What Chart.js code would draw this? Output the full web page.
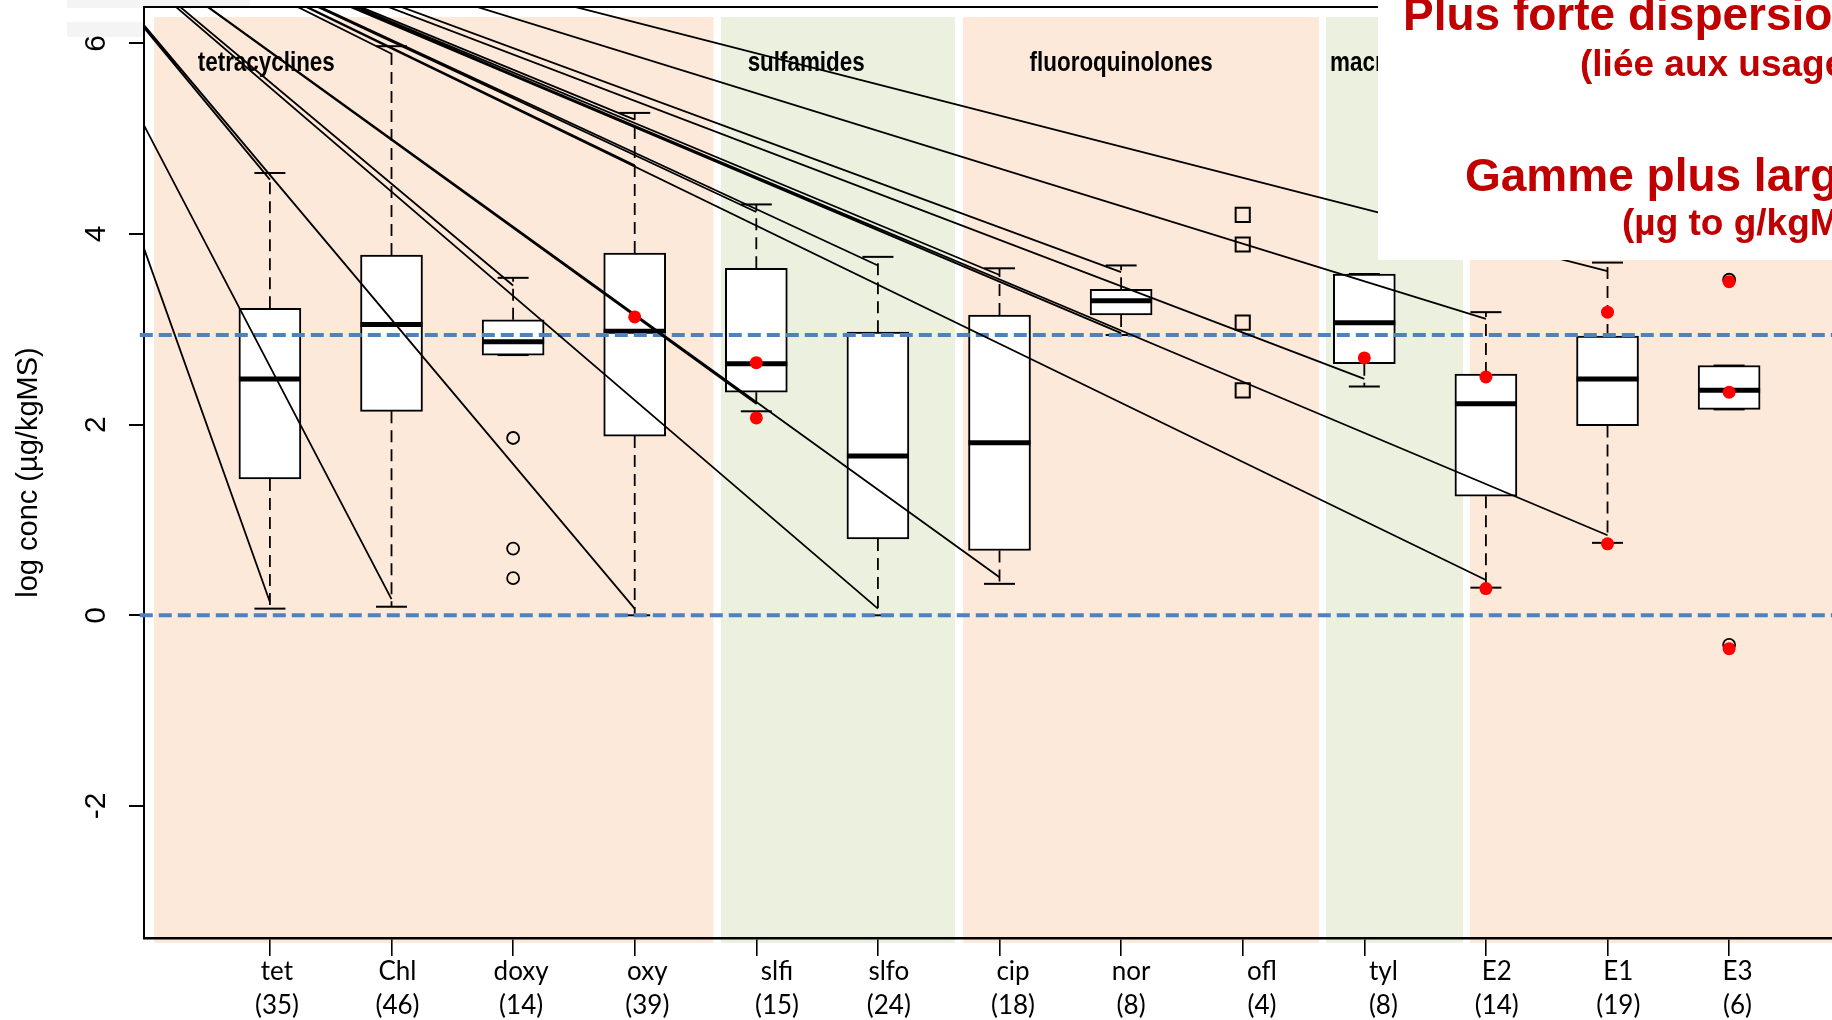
<!DOCTYPE html>
<html>
<head>
<meta charset="utf-8">
<script src="https://cdn.jsdelivr.net/npm/chart.js@4/dist/chart.umd.min.js"></script>
<style>
  html, body { margin: 0; padding: 0; background: #fff; overflow: hidden; }
  canvas { display: block; }
</style>
</head>
<body>
<canvas id="graphique" width="1832" height="1020"></canvas>
<script>
// Données (log conc en µg/kgMS)
const categories = ['tet', 'Chl', 'doxy', 'oxy', 'slfi', 'slfo', 'cip', 'nor', 'ofl', 'tyl', 'E2', 'E1', 'E3'];
const effectifs = [35, 46, 14, 39, 15, 24, 18, 8, 4, 8, 14, 19, 6];

// boites (null = pas de boite, ofl)
const basMoustache = [0.07, 0.09, 2.73, 0.00, 2.14, 0.00, 0.33, 2.94, null, 2.40, 0.29, 0.76, 2.16];
const q1 = [1.43, 2.14, 2.73, 1.88, 2.34, 0.80, 0.68, 3.15, null, 2.64, 1.25, 1.99, 2.16];
const mediane = [2.48, 3.05, 2.87, 2.98, 2.64, 1.67, 1.81, 3.30, null, 3.07, 2.22, 2.48, 2.36];
const q3 = [3.22, 3.78, 3.10, 3.80, 3.64, 2.97, 3.15, 3.42, null, 3.58, 2.53, 2.93, 2.62];
const hautMoustache = [4.64, 5.97, 3.54, 5.27, 4.31, 3.76, 3.64, 3.67, null, 3.58, 3.18, 3.70, 2.62];

// valeurs atypiques
const atypiquesCat = ['doxy', 'doxy', 'doxy', 'E3', 'E3'];
const atypiquesVal = [1.86, 0.70, 0.39, 3.52, -0.31];

// ofl : 4 valeurs seules
const oflValeurs = [4.20, 3.89, 3.07, 2.36];

// points rouges
const rougesCat = ['oxy', 'slfi', 'slfi', 'tyl', 'E2', 'E2', 'E1', 'E1', 'E3', 'E3', 'E3'];
const rougesVal = [3.13, 2.65, 2.07, 2.70, 2.50, 0.28, 3.18, 0.75, 3.50, 2.34, -0.35];

// niveaux de reference (tirets bleus)
const niveaux = [0, 2.94];

// traits partant d'un point de fuite
const fuite = { x: -1.17, y: 7.91 };
const traitsCat = ['tet', 'tet', 'Chl', 'Chl', 'doxy', 'oxy', 'oxy', 'oxy', 'slfi', 'slfi', 'slfo',
                   'slfo', 'cip', 'cip', 'nor', 'nor', 'tyl', 'E2', 'E2', 'E1', 'E1'];
const traitsVal = [0.14, 4.57, 0.17, 5.89, 3.46, 5.20, 4.72, 0.07, 4.23, 2.22, 3.67,
                   0.07, 3.57, 0.40, 3.60, 2.96, 2.48, 3.11, 0.37, 3.61, 0.84];

const yTicks = [-2, 0, 2, 4, 6];
const groupes = ['tetracyclines', 'sulfamides', 'fluoroquinolones', 'macrolides'];

// mise en page
const groupesX = [0.97, 5.41, 8.0, 9.718];
const etiquettesX = [1.058, 2.049, 3.066, 4.104, 5.170, 6.090, 7.111, 8.082, 9.158, 10.157, 11.089, 12.089, 13.069];
const bandes = [
    [0.047, 4.648, '#FDE9D9'],
    [4.710, 6.634, '#EBF1DE'],
    [6.700, 9.628, '#FDE9D9'],
    [9.685, 10.811, '#EBF1DE'],
    [10.868, 14.5, '#FDE9D9']
];
const X_MIN = -0.0354, X_MAX = 13.846;
const Y_MIN = -3.385, Y_MAX = 6.381;

function pos(c) {
    return categories.indexOf(c) + 1;
}

function sansMarge(s) {
    s.paddingLeft = 0;
    s.paddingRight = 0;
    s.paddingTop = 0;
    s.paddingBottom = 0;
}

let boites = [], medianes = [], moustaches = [], bouts = [];
categories.forEach((c, i) => {
    if (q1[i] === null) return;
    let x = i + 1;
    boites.push({ x: x, y: [q1[i], q3[i]] });
    medianes.push({ x: x, y: mediane[i] });
    moustaches.push({ x: x, y: q3[i] }, { x: x, y: hautMoustache[i] }, { x: x, y: null });
    moustaches.push({ x: x, y: q1[i] }, { x: x, y: basMoustache[i] }, { x: x, y: null });
    bouts.push({ x: x, y: basMoustache[i] }, { x: x, y: hautMoustache[i] });
});

let traits = [];
traitsCat.forEach((c, i) => {
    traits.push({ x: fuite.x, y: fuite.y }, { x: pos(c), y: traitsVal[i] }, { x: pos(c), y: null });
});

const atypiques = atypiquesCat.map((c, i) => ({ x: pos(c), y: atypiquesVal[i] }));
const carres = oflValeurs.map(v => ({ x: pos('ofl'), y: v }));
const rouges = rougesCat.map((c, i) => ({ x: pos(c), y: rougesVal[i] }));

const reperes = niveaux.map(v => ({
    type: 'scatter',
    data: [{ x: -0.07, y: v }, { x: 14.5, y: v }],
    showLine: true,
    pointRadius: 0,
    borderColor: '#4F81BD',
    borderWidth: 4,
    borderDash: [13, 6],
    clip: false,
    order: 6
}));

const decor = {
    id: 'decor',
    beforeDraw(chart) {
        const { ctx, scales: { x, y } } = chart;
        ctx.save();
        ctx.fillStyle = '#f4f4f4';
        ctx.fillRect(67, 0, 183, 8);
        ctx.fillRect(67, 22, 76, 15);
        let haut = y.getPixelForValue(6.276);
        let bas = y.getPixelForValue(-3.436);
        bandes.forEach(([a, b, couleur]) => {
            let xa = x.getPixelForValue(a);
            let xb = x.getPixelForValue(b);
            ctx.fillStyle = couleur;
            ctx.fillRect(xa, haut, xb - xa, bas - haut);
        });
        ctx.restore();
    },
    beforeDatasetsDraw(chart) {
        const { ctx, scales: { x, y } } = chart;
        ctx.save();
        ctx.font = 'bold 27px "Liberation Sans", Arial, sans-serif';
        ctx.fillStyle = '#000';
        ctx.textBaseline = 'alphabetic';
        let base = y.getPixelForValue(5.71);
        groupes.forEach((g, i) => {
            // police étroite : on comprime horizontalement
            ctx.save();
            ctx.translate(x.getPixelForValue(groupesX[i]), base);
            ctx.scale(0.83, 1);
            ctx.textAlign = i === 3 ? 'left' : 'center';
            ctx.fillText(g, 0, 0);
            ctx.restore();
        });
        ctx.restore();
    },
    afterDatasetsDraw(chart) {
        const { ctx, chartArea } = chart;
        ctx.save();
        ctx.strokeStyle = '#000';
        ctx.lineWidth = 2;
        ctx.beginPath();
        ctx.moveTo(chartArea.left, chartArea.top);
        ctx.lineTo(chartArea.right, chartArea.top);
        ctx.stroke();
        ctx.restore();
    },
    afterDraw(chart) {
        const { ctx } = chart;
        ctx.save();
        ctx.fillStyle = '#fff';
        ctx.fillRect(1378, 0, 460, 260);
        ctx.fillStyle = '#C00000';
        ctx.textAlign = 'left';
        ctx.textBaseline = 'alphabetic';
        ctx.font = 'bold 46px "Liberation Sans", Arial, sans-serif';
        ctx.fillText('Plus forte dispersion', 1403, 29.5);
        ctx.fillText('Gamme plus large', 1465, 191);
        ctx.font = 'bold 37px "Liberation Sans", Arial, sans-serif';
        ctx.fillText('(liée aux usages)', 1580, 76);
        ctx.fillText('(µg to g/kgMS)', 1622, 235);
        ctx.restore();
    }
};

Chart.defaults.font.family = '"Liberation Sans", Arial, sans-serif';
Chart.defaults.color = '#000';

const graphique = new Chart(document.getElementById('graphique'), {
    type: 'scatter',
    data: {
        datasets: [
            {
                type: 'bar',
                data: boites,
                backgroundColor: '#fff',
                borderColor: '#000',
                borderWidth: 2,
                borderSkipped: false,
                barThickness: 62,
                order: 10
            },
            {
                data: moustaches,
                showLine: true,
                pointRadius: 0,
                borderColor: '#000',
                borderWidth: 1.8,
                borderDash: [12, 7],
                order: 9
            },
            {
                data: medianes,
                pointStyle: 'line',
                pointRadius: 31,
                pointBorderColor: '#000',
                pointBorderWidth: 5,
                order: 8
            },
            {
                data: bouts,
                pointStyle: 'line',
                pointRadius: 15.5,
                pointBorderColor: '#000',
                pointBorderWidth: 2,
                order: 8
            },
            {
                data: atypiques,
                pointStyle: 'circle',
                pointRadius: 6,
                pointBackgroundColor: 'rgba(0,0,0,0)',
                pointBorderColor: '#000',
                pointBorderWidth: 1.8,
                order: 7
            },
            {
                data: carres,
                pointStyle: 'rect',
                pointRadius: 10,
                pointBackgroundColor: 'rgba(0,0,0,0)',
                pointBorderColor: '#000',
                pointBorderWidth: 2,
                order: 7
            },
            ...reperes,
            {
                data: traits,
                showLine: true,
                pointRadius: 0,
                borderColor: '#000',
                borderWidth: 1.8,
                order: 5
            },
            {
                data: rouges,
                pointStyle: 'circle',
                pointRadius: 6.5,
                pointBackgroundColor: '#FF0000',
                pointBorderWidth: 0,
                order: 1
            }
        ]
    },
    options: {
        responsive: false,
        maintainAspectRatio: false,
        devicePixelRatio: 1,
        animation: false,
        events: [],
        layout: { autoPadding: false, padding: { top: 7, left: 0, right: 0, bottom: 0 } },
        plugins: {
            legend: { display: false },
            tooltip: { enabled: false }
        },
        scales: {
            x: {
                type: 'linear',
                axis: 'x',
                position: 'bottom',
                min: X_MIN,
                max: X_MAX,
                offset: false,
                weight: 0,
                afterBuildTicks: s => { s.ticks = categories.map((c, i) => ({ value: i + 1 })); },
                afterFit: s => { s.height = 18; sansMarge(s); },
                ticks: { display: false },
                grid: { offset: false, drawOnChartArea: false, drawTicks: true, tickLength: 18, color: '#000', lineWidth: 1.6 },
                border: { display: true, color: '#000', width: 2.5 }
            },
            xl: {
                type: 'linear',
                axis: 'x',
                position: 'bottom',
                min: X_MIN,
                max: X_MAX,
                offset: false,
                weight: 1,
                afterBuildTicks: s => { s.ticks = etiquettesX.map(v => ({ value: v })); },
                afterFit: s => { s.height = 64; sansMarge(s); },
                ticks: {
                    autoSkip: false,
                    maxRotation: 0,
                    minRotation: 0,
                    padding: -1,
                    font: { family: 'Lato, "Open Sans", sans-serif', size: 26, lineHeight: 1.31 },
                    callback: (v, i) => [categories[i], '(' + effectifs[i] + ')']
                },
                grid: { display: false, drawTicks: false },
                border: { display: false }
            },
            y: {
                type: 'linear',
                min: Y_MIN,
                max: Y_MAX,
                afterBuildTicks: s => { s.ticks = yTicks.map(v => ({ value: v })); },
                afterFit: s => { s.width = 144; sansMarge(s); },
                ticks: {
                    autoSkip: false,
                    minRotation: 90,
                    maxRotation: 90,
                    crossAlign: 'center',
                    padding: 19,
                    font: { size: 30 }
                },
                grid: { drawOnChartArea: false, drawTicks: true, tickLength: 15, color: '#000', lineWidth: 2 },
                border: { display: true, color: '#000', width: 2 },
                title: {
                    display: true,
                    text: 'log conc (µg/kgMS)',
                    font: { size: 29 },
                    padding: { top: 12, bottom: 0 }
                }
            }
        }
    },
    plugins: [decor]
});
</script>
</body>
</html>
